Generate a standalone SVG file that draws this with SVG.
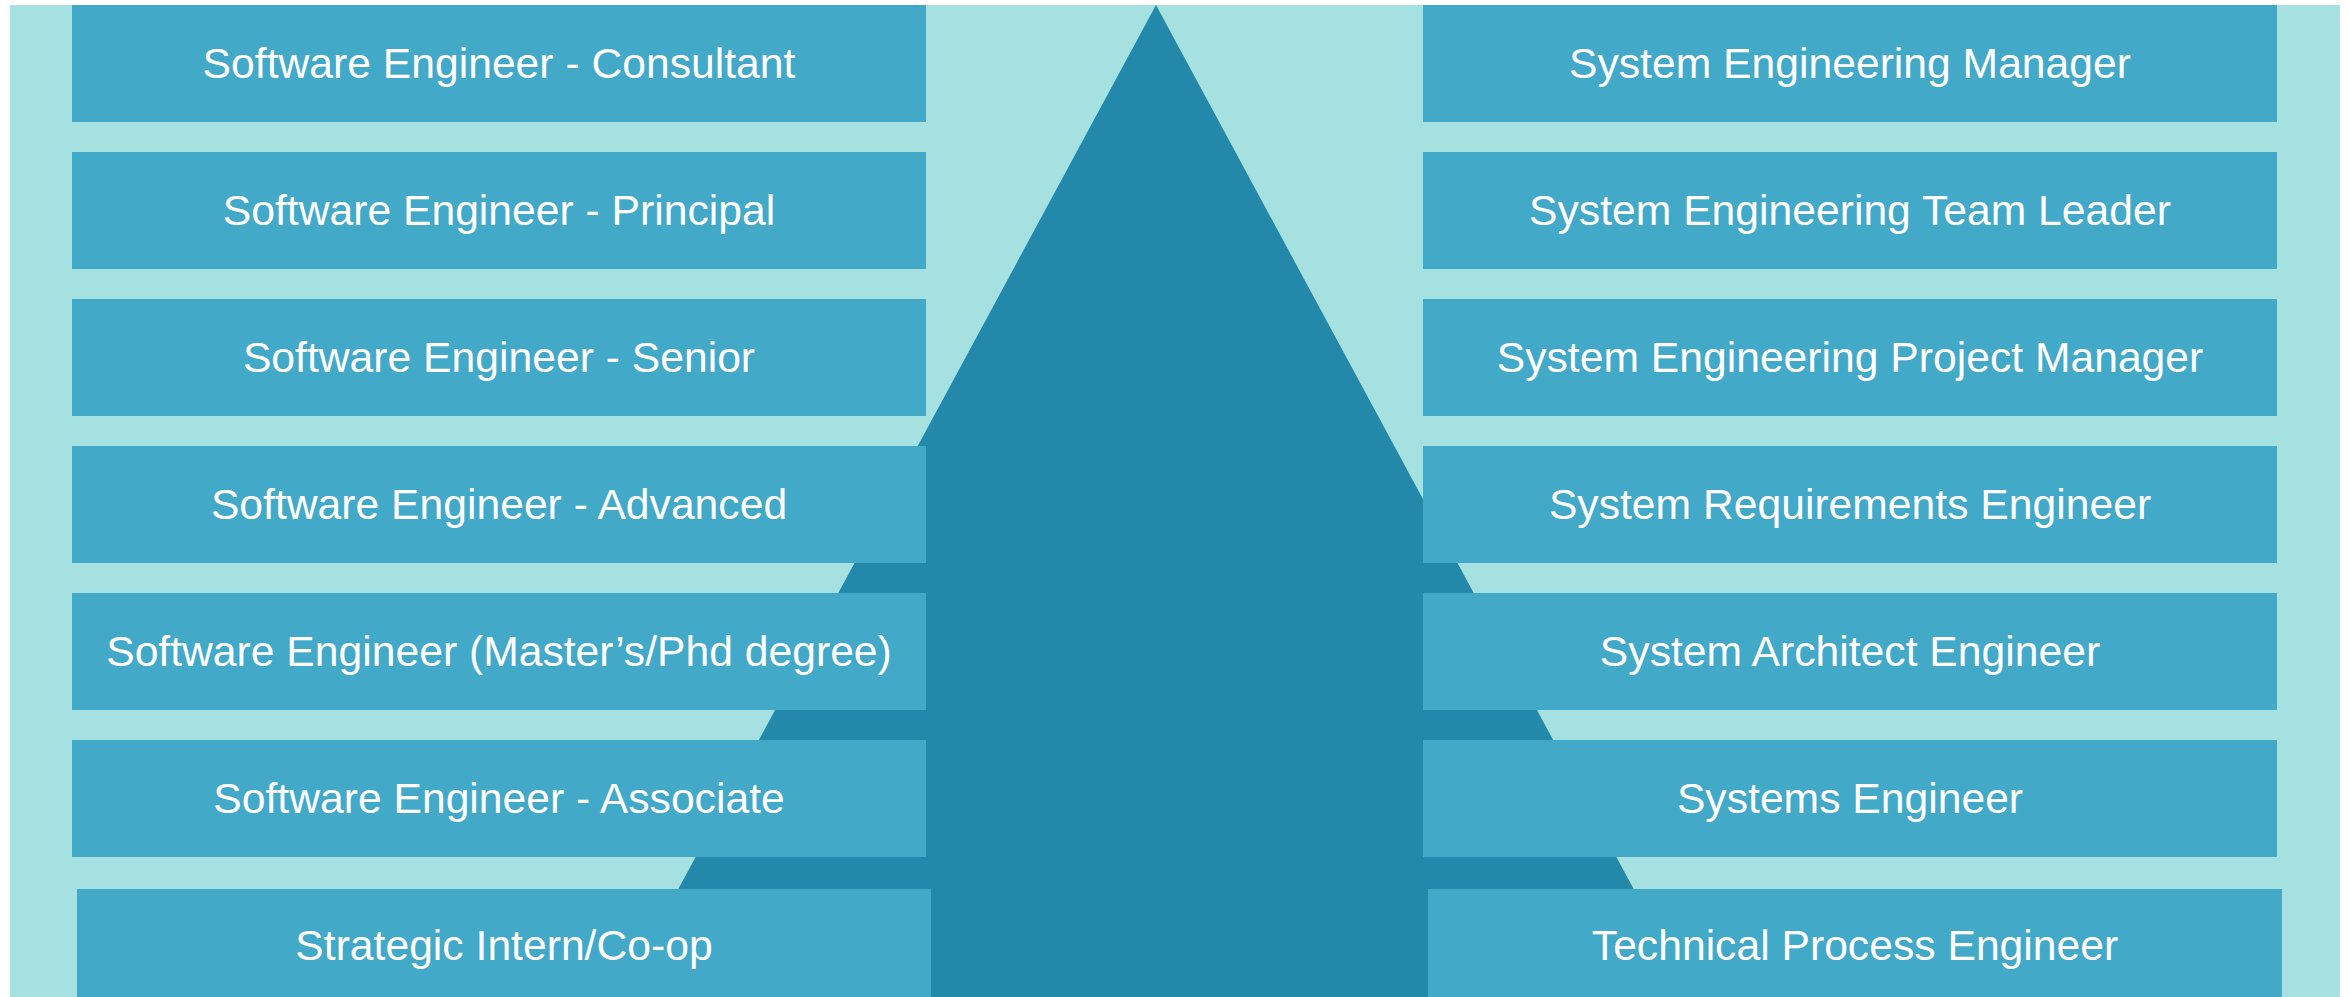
<svg xmlns="http://www.w3.org/2000/svg" width="2350" height="997" viewBox="0 0 2350 997">
<style>
.bg{fill:#A5E1E1}
.tri{fill:#2388A9}
.box{fill:#42A9C9}
.lbl{fill:#FFFFFF;font-family:"Liberation Sans",Arial,sans-serif;font-size:42.67px;text-anchor:middle}
</style>
<rect width="2350" height="997" fill="#FFFFFF"/>
<rect class="bg" x="10" y="5" width="2330" height="992"/>
<polygon class="tri" points="1156,5 1692,997 620,997"/>
<g id="connectors"></g>
<g id="sw-consultant"><rect class="box" x="72" y="5" width="854" height="117"/><text class="lbl" x="499" y="78">Software Engineer - Consultant</text></g>
<g id="sw-principal"><rect class="box" x="72" y="152" width="854" height="117"/><text class="lbl" x="499" y="225">Software Engineer - Principal</text></g>
<g id="sw-senior"><rect class="box" x="72" y="299" width="854" height="117"/><text class="lbl" x="499" y="372">Software Engineer - Senior</text></g>
<g id="sw-advanced"><rect class="box" x="72" y="446" width="854" height="117"/><text class="lbl" x="499" y="519">Software Engineer - Advanced</text></g>
<g id="sw-masters"><rect class="box" x="72" y="593" width="854" height="117"/><text class="lbl" x="499" y="666">Software Engineer (Master’s/Phd degree)</text></g>
<g id="sw-associate"><rect class="box" x="72" y="740" width="854" height="117"/><text class="lbl" x="499" y="813">Software Engineer - Associate</text></g>
<g id="intern"><rect class="box" x="77" y="889" width="854" height="117"/><text class="lbl" x="504" y="960">Strategic Intern/Co-op</text></g>
<g id="se-manager"><rect class="box" x="1423" y="5" width="854" height="117"/><text class="lbl" x="1850" y="78">System Engineering Manager</text></g>
<g id="se-team-leader"><rect class="box" x="1423" y="152" width="854" height="117"/><text class="lbl" x="1850" y="225">System Engineering Team Leader</text></g>
<g id="se-project-manager"><rect class="box" x="1423" y="299" width="854" height="117"/><text class="lbl" x="1850" y="372">System Engineering Project Manager</text></g>
<g id="sys-requirements"><rect class="box" x="1423" y="446" width="854" height="117"/><text class="lbl" x="1850" y="519">System Requirements Engineer</text></g>
<g id="sys-architect"><rect class="box" x="1423" y="593" width="854" height="117"/><text class="lbl" x="1850" y="666">System Architect Engineer</text></g>
<g id="systems-engineer"><rect class="box" x="1423" y="740" width="854" height="117"/><text class="lbl" x="1850" y="813">Systems Engineer</text></g>
<g id="tech-process"><rect class="box" x="1428" y="889" width="854" height="117"/><text class="lbl" x="1855" y="960">Technical Process Engineer</text></g>
</svg>
